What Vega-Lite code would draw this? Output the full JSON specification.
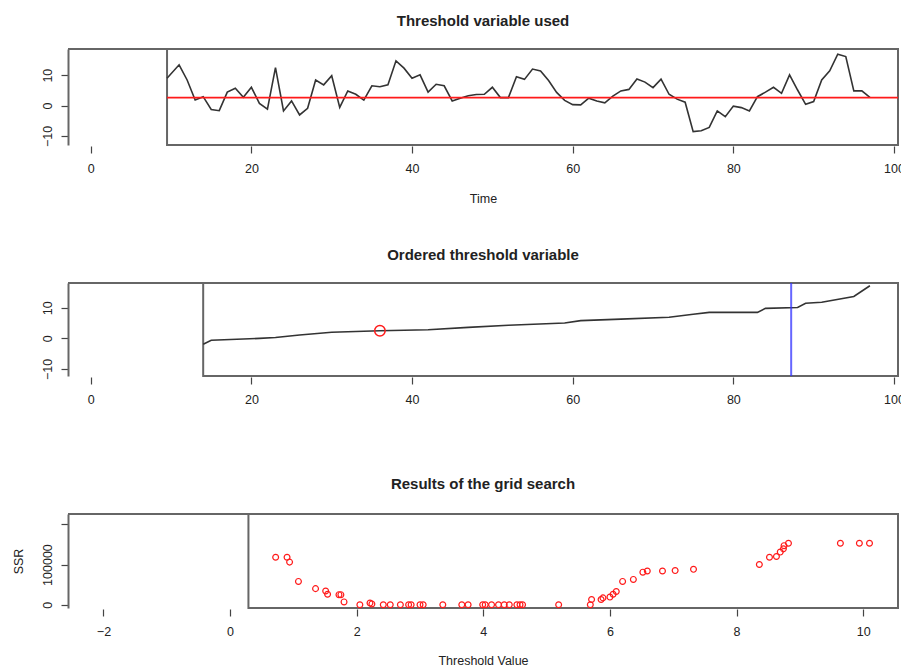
{
  "$schema": "https://vega.github.io/schema/vega-lite/v6.json",
  "autosize": {"type": "none"},
  "padding": {"left": 68, "top": 49, "right": 833, "bottom": 619},
  "background": "white",
  "bounds": "flush",
  "spacing": 138,
  "datasets": {
    "series": [
      {"t": 9.5, "v": 9.0}, {"t": 11, "v": 13.4}, {"t": 12, "v": 8.4}, {"t": 13, "v": 1.8}, {"t": 14, "v": 2.9},
      {"t": 15, "v": -1.3}, {"t": 16, "v": -1.7}, {"t": 17, "v": 4.4}, {"t": 18, "v": 5.7}, {"t": 19, "v": 2.7},
      {"t": 20, "v": 6.0}, {"t": 21, "v": 0.7}, {"t": 22, "v": -1.2}, {"t": 23, "v": 12.5}, {"t": 24, "v": -1.8},
      {"t": 25, "v": 1.5}, {"t": 26, "v": -3.1}, {"t": 27, "v": -0.9}, {"t": 28, "v": 8.4}, {"t": 29, "v": 6.8},
      {"t": 30, "v": 9.8}, {"t": 31, "v": -0.6}, {"t": 32, "v": 4.8}, {"t": 33, "v": 3.7}, {"t": 34, "v": 1.8},
      {"t": 35, "v": 6.5}, {"t": 36, "v": 6.2}, {"t": 37, "v": 6.8}, {"t": 38, "v": 14.7}, {"t": 39, "v": 12.3},
      {"t": 40, "v": 9.0}, {"t": 41, "v": 10.1}, {"t": 42, "v": 4.4}, {"t": 43, "v": 7.0}, {"t": 44, "v": 6.5},
      {"t": 45, "v": 1.5}, {"t": 46, "v": 2.4}, {"t": 47, "v": 3.2}, {"t": 48, "v": 3.6}, {"t": 49, "v": 3.7},
      {"t": 50, "v": 6.0}, {"t": 51, "v": 2.6}, {"t": 52, "v": 2.6}, {"t": 53, "v": 9.5}, {"t": 54, "v": 8.6},
      {"t": 55, "v": 12.0}, {"t": 56, "v": 11.4}, {"t": 57, "v": 8.2}, {"t": 58, "v": 4.3}, {"t": 59, "v": 1.7},
      {"t": 60, "v": 0.3}, {"t": 61, "v": 0.2}, {"t": 62, "v": 2.4}, {"t": 63, "v": 1.5}, {"t": 64, "v": 0.9},
      {"t": 65, "v": 3.1}, {"t": 66, "v": 4.8}, {"t": 67, "v": 5.3}, {"t": 68, "v": 8.7}, {"t": 69, "v": 7.7},
      {"t": 70, "v": 5.9}, {"t": 71, "v": 8.7}, {"t": 72, "v": 3.7}, {"t": 73, "v": 2.1}, {"t": 74, "v": 1.1},
      {"t": 75, "v": -8.6}, {"t": 76, "v": -8.3}, {"t": 77, "v": -7.2}, {"t": 78, "v": -1.8}, {"t": 79, "v": -3.7},
      {"t": 80, "v": -0.2}, {"t": 81, "v": -0.7}, {"t": 82, "v": -1.8}, {"t": 83, "v": 2.9}, {"t": 84, "v": 4.4},
      {"t": 85, "v": 6.0}, {"t": 86, "v": 4.0}, {"t": 87, "v": 10.1}, {"t": 88, "v": 5.1}, {"t": 89, "v": 0.4},
      {"t": 90, "v": 1.3}, {"t": 91, "v": 8.4}, {"t": 92, "v": 11.4}, {"t": 93, "v": 16.9}, {"t": 94, "v": 16.1},
      {"t": 95, "v": 4.8}, {"t": 96, "v": 4.8}, {"t": 97, "v": 2.7}
    ],
    "ordered": [
      {"i": 14, "v": -1.9}, {"i": 15, "v": -0.6}, {"i": 19, "v": -0.2}, {"i": 21, "v": 0.0}, {"i": 23, "v": 0.3},
      {"i": 26, "v": 1.1}, {"i": 30, "v": 2.0}, {"i": 36, "v": 2.5}, {"i": 42, "v": 2.8}, {"i": 47, "v": 3.6},
      {"i": 52, "v": 4.3}, {"i": 59, "v": 5.0}, {"i": 61, "v": 5.8}, {"i": 66, "v": 6.3}, {"i": 72, "v": 6.9},
      {"i": 75, "v": 7.9}, {"i": 77, "v": 8.5}, {"i": 83, "v": 8.5}, {"i": 84, "v": 9.8}, {"i": 88, "v": 10.1},
      {"i": 89, "v": 11.5}, {"i": 91, "v": 11.8}, {"i": 95, "v": 13.7}, {"i": 97, "v": 17.2}
    ],
    "grid": [
      {"th": 0.72, "ssr": 118000}, {"th": 0.90, "ssr": 118000}, {"th": 0.94, "ssr": 106000}, {"th": 1.08, "ssr": 58000},
      {"th": 1.35, "ssr": 40000}, {"th": 1.51, "ssr": 34000}, {"th": 1.54, "ssr": 26000}, {"th": 1.72, "ssr": 25000},
      {"th": 1.75, "ssr": 25000}, {"th": 1.80, "ssr": 7000}, {"th": 2.05, "ssr": 0}, {"th": 2.21, "ssr": 4000},
      {"th": 2.24, "ssr": 2000}, {"th": 2.42, "ssr": 0}, {"th": 2.53, "ssr": 0}, {"th": 2.69, "ssr": 0},
      {"th": 2.82, "ssr": 0}, {"th": 2.86, "ssr": 0}, {"th": 3.00, "ssr": 0}, {"th": 3.05, "ssr": 0},
      {"th": 3.36, "ssr": 0}, {"th": 3.66, "ssr": 0}, {"th": 3.76, "ssr": 0}, {"th": 3.99, "ssr": 0},
      {"th": 4.03, "ssr": 0}, {"th": 4.13, "ssr": 0}, {"th": 4.24, "ssr": 0}, {"th": 4.33, "ssr": 0},
      {"th": 4.41, "ssr": 0}, {"th": 4.53, "ssr": 0}, {"th": 4.58, "ssr": 0}, {"th": 4.62, "ssr": 0},
      {"th": 5.19, "ssr": 0}, {"th": 5.69, "ssr": 0}, {"th": 5.71, "ssr": 13000}, {"th": 5.86, "ssr": 13000},
      {"th": 5.89, "ssr": 17000}, {"th": 6.00, "ssr": 19000}, {"th": 6.05, "ssr": 26000}, {"th": 6.10, "ssr": 33000},
      {"th": 6.20, "ssr": 58000}, {"th": 6.37, "ssr": 63000}, {"th": 6.52, "ssr": 81000}, {"th": 6.59, "ssr": 84000},
      {"th": 6.83, "ssr": 84000}, {"th": 7.03, "ssr": 85000}, {"th": 7.32, "ssr": 88000}, {"th": 8.36, "ssr": 100000},
      {"th": 8.52, "ssr": 118000}, {"th": 8.63, "ssr": 120000}, {"th": 8.69, "ssr": 131000}, {"th": 8.74, "ssr": 139000},
      {"th": 8.75, "ssr": 147000}, {"th": 8.82, "ssr": 153000}, {"th": 9.64, "ssr": 153000}, {"th": 9.94, "ssr": 153000},
      {"th": 10.10, "ssr": 153000}
    ]
  },
  "vconcat": [
    {
      "width": 830,
      "height": 96,
      "title": {"text": "Threshold variable used", "offset": 19},
      "layer": [
        {
          "data": {"values": [{}]},
          "mark": {"type": "rect", "filled": false, "stroke": "#666", "strokeWidth": 2},
          "encoding": {
            "x": {"datum": 9.5, "type": "quantitative", "scale": {"domain": [-2.83, 100.5], "nice": false, "zero": false},
                  "axis": {"values": [0, 20, 40, 60, 80, 100], "title": "Time", "titlePadding": 18}},
            "x2": {"datum": 100.5},
            "y": {"datum": -13, "type": "quantitative", "scale": {"domain": [-13, 18.6], "nice": false, "zero": false},
                  "axis": {"values": [-10, -5, 0, 5, 10, 15], "labelExpr": "datum.value % 10 === 0 ? datum.label : ''", "title": null}},
            "y2": {"datum": 18.6}
          }
        },
        {
          "data": {"values": [{}]},
          "mark": {"type": "rule", "stroke": "#666", "strokeWidth": 2},
          "encoding": {"x": {"datum": -2.83}, "x2": {"datum": 100.5}, "y": {"datum": 18.6}}
        },
        {
          "data": {"name": "series"},
          "mark": {"type": "line", "stroke": "#333", "strokeWidth": 1.6},
          "encoding": {"x": {"field": "t", "type": "quantitative"}, "y": {"field": "v", "type": "quantitative"}}
        },
        {
          "data": {"values": [{}]},
          "mark": {"type": "rule", "stroke": "#ff1a1a", "strokeWidth": 1.8},
          "encoding": {"x": {"datum": 9.5}, "x2": {"datum": 100.5}, "y": {"datum": 2.6}}
        }
      ]
    },
    {
      "width": 830,
      "height": 93,
      "title": {"text": "Ordered threshold variable", "offset": 19},
      "layer": [
        {
          "data": {"values": [{}]},
          "mark": {"type": "rect", "filled": false, "stroke": "#666", "strokeWidth": 2},
          "encoding": {
            "x": {"datum": 14, "type": "quantitative", "scale": {"domain": [-2.83, 100.5], "nice": false, "zero": false},
                  "axis": {"values": [0, 20, 40, 60, 80, 100], "title": null}},
            "x2": {"datum": 100.5},
            "y": {"datum": -12.3, "type": "quantitative", "scale": {"domain": [-12.3, 18.1], "nice": false, "zero": false},
                  "axis": {"values": [-10, -5, 0, 5, 10, 15], "labelExpr": "datum.value % 10 === 0 ? datum.label : ''", "title": null}},
            "y2": {"datum": 18.1}
          }
        },
        {
          "data": {"values": [{}]},
          "mark": {"type": "rule", "stroke": "#666", "strokeWidth": 2},
          "encoding": {"x": {"datum": -2.83}, "x2": {"datum": 100.5}, "y": {"datum": 18.1}}
        },
        {
          "data": {"name": "ordered"},
          "mark": {"type": "line", "stroke": "#333", "strokeWidth": 1.6},
          "encoding": {"x": {"field": "i", "type": "quantitative"}, "y": {"field": "v", "type": "quantitative"}}
        },
        {
          "data": {"values": [{}]},
          "mark": {"type": "rule", "stroke": "#3333ff", "strokeOpacity": 0.75, "strokeWidth": 2},
          "encoding": {"x": {"datum": 87.2}, "y": {"datum": -12.3}, "y2": {"datum": 18.1}}
        },
        {
          "data": {"values": [{"i": 36, "v": 2.5}]},
          "mark": {"type": "point", "shape": "circle", "filled": false, "stroke": "#ff1a1a", "strokeWidth": 1.5, "size": 110, "opacity": 1},
          "encoding": {"x": {"field": "i", "type": "quantitative"}, "y": {"field": "v", "type": "quantitative"}}
        }
      ]
    },
    {
      "width": 830,
      "height": 94,
      "title": {"text": "Results of the grid search", "offset": 21},
      "layer": [
        {
          "data": {"values": [{}]},
          "mark": {"type": "rect", "filled": false, "stroke": "#666", "strokeWidth": 2},
          "encoding": {
            "x": {"datum": 0.29, "type": "quantitative", "scale": {"domain": [-2.56, 10.55], "nice": false, "zero": false},
                  "axis": {"values": [-2, 0, 2, 4, 6, 8, 10], "format": "d", "title": "Threshold Value", "titlePadding": 17}},
            "x2": {"datum": 10.55},
            "y": {"datum": -8200, "type": "quantitative", "scale": {"domain": [-8200, 225800], "nice": false, "zero": false},
                  "axis": {"values": [0, 50000, 100000, 150000, 200000], "format": "d", "labelExpr": "datum.value === 0 || datum.value === 100000 ? datum.label : ''", "title": "SSR", "titlePadding": 16}},
            "y2": {"datum": 225800}
          }
        },
        {
          "data": {"values": [{}]},
          "mark": {"type": "rule", "stroke": "#666", "strokeWidth": 2},
          "encoding": {"x": {"datum": -2.56}, "x2": {"datum": 10.55}, "y": {"datum": 225800}}
        },
        {
          "data": {"name": "grid"},
          "mark": {"type": "point", "shape": "circle", "filled": false, "stroke": "#ff1a1a", "strokeWidth": 1.2, "size": 34, "opacity": 1},
          "encoding": {"x": {"field": "th", "type": "quantitative"}, "y": {"field": "ssr", "type": "quantitative"}}
        }
      ]
    }
  ],
  "config": {
    "view": {"stroke": null},
    "title": {"font": "Liberation Sans", "fontSize": 15, "fontWeight": "bold", "color": "#222", "anchor": "middle"},
    "axis": {
      "labelFont": "Liberation Sans", "labelFontSize": 12.5, "labelColor": "#222",
      "titleFont": "Liberation Sans", "titleFontSize": 12.5, "titleColor": "#222", "titleFontWeight": "normal",
      "grid": false, "tickColor": "#444", "tickWidth": 1.2, "tickSize": 7,
      "domainColor": "#666", "domainWidth": 2, "labelFlush": false, "labelOverlap": false
    },
    "axisX": {"domain": false, "offset": 1, "labelPadding": 9},
    "axisY": {"labelAngle": 270, "labelAlign": "center", "labelBaseline": "bottom", "labelPadding": 7}
  }
}
